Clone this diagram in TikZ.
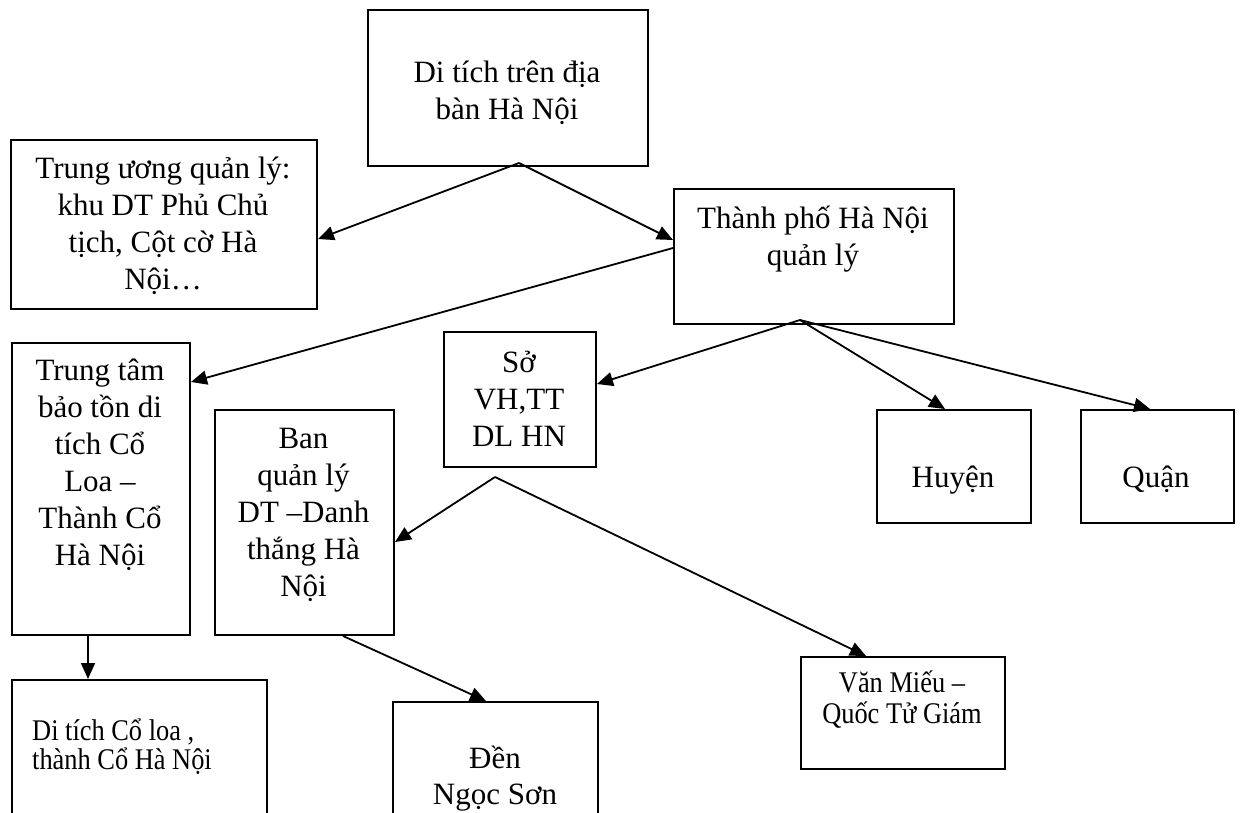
\documentclass[tikz,border=0pt]{standalone}
\usepackage{fontspec}
\setmainfont{Liberation Serif}
\newfontfamily\condfont[FakeStretch=0.88]{Liberation Serif}
\usetikzlibrary{arrows.meta,calc}
\tikzset{
  box/.style={draw, line width=2pt, inner sep=0pt, anchor=north west},
  txt/.style={font=\fontsize{31}{37}\selectfont, align=center, inner sep=0pt, anchor=base},
  smalltxt/.style={font=\condfont\fontsize{30}{29}\selectfont, inner sep=0pt},
  arr/.style={-{Triangle[length=16pt,width=14pt]}, line width=1.8pt},
}
\begin{document}
\begin{tikzpicture}[x=1pt,y=-1pt]
\useasboundingbox (0,0) rectangle (1242,812);
\clip (0,0) rectangle (1242,812);
% boxes
\node[box, minimum width=280pt, minimum height=156pt] (A) at (367,9) {};
\node[box, minimum width=306pt, minimum height=169pt] (B) at (10,139) {};
\node[box, minimum width=280pt, minimum height=135pt] (C) at (673,188) {};
\node[box, minimum width=178pt, minimum height=292pt] (D) at (11,342) {};
\node[box, minimum width=152pt, minimum height=135pt] (E) at (443,331) {};
\node[box, minimum width=179pt, minimum height=225pt] (F) at (214,409) {};
\node[box, minimum width=154pt, minimum height=113pt] (G) at (876,409) {};
\node[box, minimum width=153pt, minimum height=113pt] (H) at (1080,409) {};
\node[box, minimum width=255pt, minimum height=200pt] (I) at (11,679) {};
\node[box, minimum width=205pt, minimum height=200pt] (J) at (392,701) {};
\node[box, minimum width=204pt, minimum height=112pt] (K) at (800,656) {};
% texts (anchor = baseline of the last line)
\node[txt] (At) at (507,119) {Di tích trên địa\\bàn Hà Nội};
\node[txt] (Bt) at (163,289) {Trung ương quản lý:\\khu DT Phủ Chủ\\tịch, Cột cờ Hà\\Nội…};
\node[txt] (Ct) at (813,265) {Thành phố Hà Nội\\quản lý};
\node[txt] (Dt) at (100,565) {Trung tâm\\bảo tồn di\\tích Cổ\\Loa –\\Thành Cổ\\Hà Nội};
\node[txt] (Et) at (519,446) {Sở\\VH,TT\\DL HN};
\node[txt] (Ft) at (303.5,596) {Ban\\quản lý\\DT –Danh\\thắng Hà\\Nội};
\node[txt] (Gt) at (953,487) {Huyện};
\node[txt] (Ht) at (1156,487) {Quận};
\node[smalltxt, align=left, anchor=base west] (It) at (32,769) {Di tích Cổ loa ,\\thành Cổ Hà Nội};
\node[txt, font=\fontsize{31}{36}\selectfont] (Jt) at (495,804) {Đền\\Ngọc Sơn};
\node[smalltxt, align=center, anchor=base, font=\condfont\fontsize{30}{31}\selectfont] (Kt) at (902,723) {Văn Miếu –\\Quốc Tử Giám};
% junction points
\coordinate (pA) at (519,163);
\coordinate (pC) at (800,320);
\coordinate (pE) at (495,477);
% connectors
\draw[arr] (pA) -- ($(B.north east)+(0,100)$);
\draw[arr] (pA) -- ($(C.north west)+(0,52)$);
\draw[arr] ($(C.north west)+(0,60)$) -- ($(D.north east)+(0,40)$);
\draw[arr] (pC) -- ($(E.north east)+(0,53)$);
\draw[arr] (pC) -- ($(G.north west)+(69,0)$);
\draw[arr] (pC) -- ($(H.north west)+(70,0)$);
\draw[arr] (pE) -- ($(F.north east)+(0,133)$);
\draw[arr] (pE) -- ($(K.north west)+(66,0)$);
\draw[arr] ($(D.south west)+(77,0)$) -- ($(I.north west)+(77,0)$);
\draw[arr] ($(F.south west)+(129,0)$) -- ($(J.north west)+(94,0)$);
\end{tikzpicture}
\end{document}
